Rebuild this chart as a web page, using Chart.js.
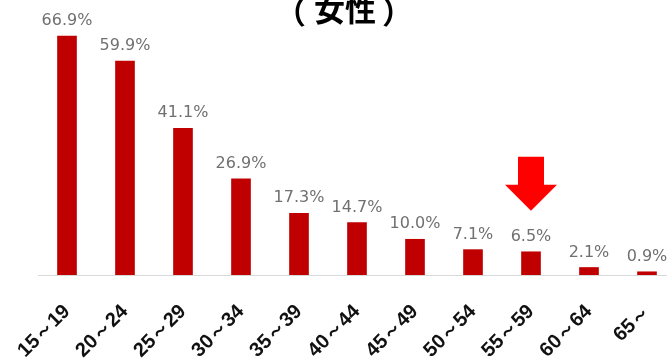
<!DOCTYPE html>
<html>
<head>
<meta charset="utf-8">
<script src="https://cdn.jsdelivr.net/npm/chart.js@4"></script>
<style>
html,body{margin:0;padding:0;background:#fff;overflow:hidden;}
#wrap{width:677px;height:361px;position:relative;}
</style>
</head>
<body>
<div id="wrap"><canvas id="c" width="677" height="361"></canvas></div>
<script>
const titleParts = ["（", "女性", "）"];
const categories = ["15～19","20～24","25～29","30～34","35～39","40～44","45～49","50～54","55～59","60～64","65～"];
const values = [66.9, 59.9, 41.1, 26.9, 17.3, 14.7, 10.0, 7.1, 6.5, 2.1, 0.9];
const valueLabels = ["66.9%","59.9%","41.1%","26.9%","17.3%","14.7%","10.0%","7.1%","6.5%","2.1%","0.9%"];
const highlightIndex = 8;

const overlay = {
  id: 'overlay',
  afterDatasetsDraw(chart) {
    const ctx = chart.ctx;
    const meta = chart.getDatasetMeta(0);
    ctx.save();
    // value labels
    ctx.font = '16px "DejaVu Sans"';
    ctx.fillStyle = '#707070';
    ctx.textAlign = 'center';
    ctx.textBaseline = 'alphabetic';
    meta.data.forEach((bar, i) => {
      ctx.fillText(valueLabels[i], bar.x, bar.y - 11);
    });
    // arrow
    const b = meta.data[highlightIndex];
    const tip = b.y - 41;
    const headH = 26, shaftH = 28, sw = 13, hw = 26;
    ctx.fillStyle = '#FF0000';
    ctx.beginPath();
    ctx.moveTo(b.x - sw, tip - headH - shaftH);
    ctx.lineTo(b.x + sw, tip - headH - shaftH);
    ctx.lineTo(b.x + sw, tip - headH);
    ctx.lineTo(b.x + hw, tip - headH);
    ctx.lineTo(b.x, tip);
    ctx.lineTo(b.x - hw, tip - headH);
    ctx.lineTo(b.x - sw, tip - headH);
    ctx.closePath();
    ctx.fill();
    // title: place each part by its ink box
    ctx.font = 'bold 31px "Noto Sans CJK JP"';
    ctx.fillStyle = '#000';
    ctx.textAlign = 'left';
    ctx.textBaseline = 'alphabetic';
    const lefts = [295, 315, 383];
    const bottom = 25;
    titleParts.forEach((t, i) => {
      const m = ctx.measureText(t);
      const x = lefts[i] + m.actualBoundingBoxLeft;
      const y = (i === 1) ? bottom - m.actualBoundingBoxDescent : bottom + 2 - m.actualBoundingBoxDescent;
      ctx.fillText(t, x, y);
    });
    ctx.restore();
  }
};

new Chart(document.getElementById('c'), {
  type: 'bar',
  data: {
    labels: categories,
    datasets: [{
      data: values,
      backgroundColor: '#C00000',
      barThickness: 19
    }]
  },
  options: {
    responsive: false,
    animation: false,
    layout: { padding: { left: 38, right: 1, top: 0, bottom: 0 } },
    plugins: { legend: { display: false }, tooltip: { enabled: false }, title: { display: false } },
    scales: {
      x: {
        grid: { display: false, drawTicks: false },
        border: { display: true, color: '#D9D9D9', width: 1 },
        ticks: {
          autoSkip: false, maxRotation: 45, minRotation: 45,
          padding: 25,
          color: '#111',
          font: { family: '"Liberation Sans"', size: 20, weight: 'bold' }
        },
        afterFit(scale) { scale.height = 86; scale.paddingLeft = 0; scale.paddingRight = 0; }
      },
      y: {
        display: false,
        min: 0, max: 77
      }
    }
  },
  plugins: [overlay]
});
</script>
</body>
</html>
